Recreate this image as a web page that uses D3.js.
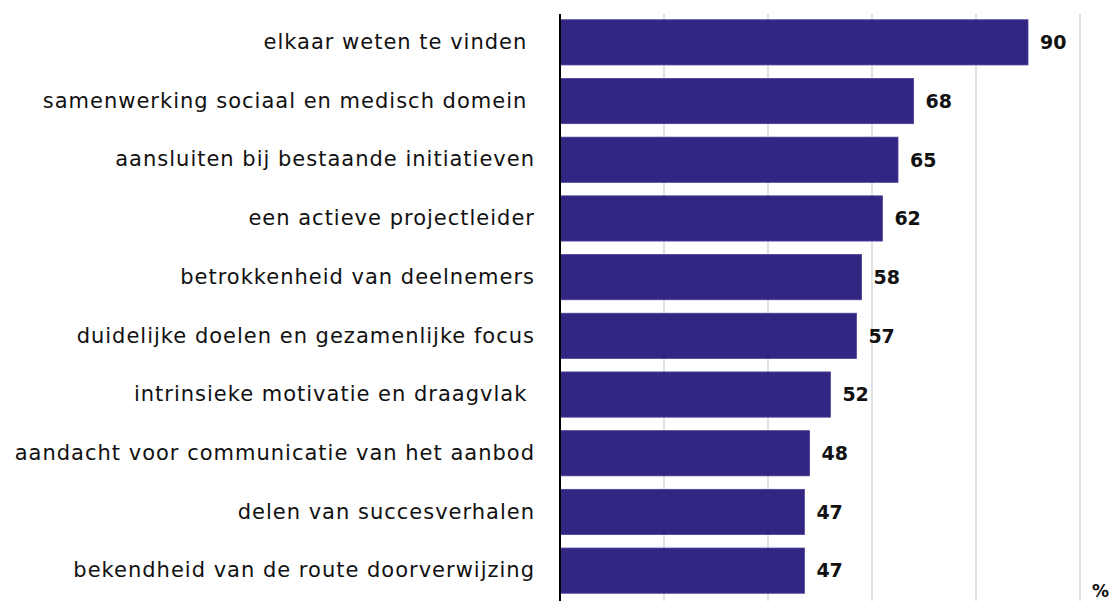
<!DOCTYPE html>
<html>
<head>
<meta charset="utf-8">
<script src="https://cdn.jsdelivr.net/npm/d3@7"></script>
<style>
  body { margin: 0; background: #fff; }
  svg { display: block; }
</style>
</head>
<body>
<svg id="chart" width="1115" height="601"></svg>
<script>
// data
const categories = [
  "elkaar weten te vinden ",
  "samenwerking sociaal en medisch domein ",
  "aansluiten bij bestaande initiatieven",
  "een actieve projectleider",
  "betrokkenheid van deelnemers",
  "duidelijke doelen en gezamenlijke focus",
  "intrinsieke motivatie en draagvlak ",
  "aandacht voor communicatie van het aanbod",
  "delen van succesverhalen",
  "bekendheid van de route doorverwijzing"
];
const values = [90, 68, 65, 62, 58, 57, 52, 48, 47, 47];
const gridTicks = [20, 40, 60, 80, 100];
const unitLabel = "%";

const svg = d3.select("#chart");
const width = 1115, height = 601;

const x = d3.scaleLinear().domain([0, 100]).range([560, 1080]);
const y = d3.scaleBand()
  .domain(categories)
  .range([13, 600])
  .paddingInner(0.23)
  .paddingOuter(0.115);

const font = "'DejaVu Sans', 'Open Sans', sans-serif";

// gridlines
svg.append("g")
  .selectAll("line")
  .data(gridTicks)
  .enter().append("line")
  .attr("x1", d => x(d)).attr("x2", d => x(d))
  .attr("y1", 14).attr("y2", height)
  .attr("stroke", "#d9d9d9")
  .attr("stroke-width", 1.5);

// bars
svg.append("g")
  .selectAll("rect")
  .data(values)
  .enter().append("rect")
  .attr("x", x(0))
  .attr("y", (d, i) => y(categories[i]))
  .attr("width", d => x(d) - x(0))
  .attr("height", y.bandwidth())
  .attr("fill", "#312783")
  .attr("stroke", "#4a3f98")
  .attr("stroke-width", 0.8);

// value labels
svg.append("g")
  .selectAll("text")
  .data(values)
  .enter().append("text")
  .attr("x", d => x(d) + 12)
  .attr("y", (d, i) => y(categories[i]) + y.bandwidth() / 2)
  .attr("dy", "0.36em")
  .style("font-family", font)
  .style("font-size", "19px")
  .style("font-weight", 700)
  .attr("fill", "#111")
  .text(d => d);

// category axis
const yAxis = svg.append("g")
  .attr("transform", `translate(${x(0)},0)`)
  .call(d3.axisLeft(y).tickSize(0).tickPadding(25));
yAxis.select(".domain").remove();
yAxis.selectAll("text")
  .attr("xml:space", "preserve")
  .style("font-family", font)
  .style("font-size", "21px")
  .style("letter-spacing", "1px")
  .attr("fill", "#111");

// axis line
svg.append("line")
  .attr("x1", x(0)).attr("x2", x(0))
  .attr("y1", 14).attr("y2", height)
  .attr("stroke", "#000")
  .attr("stroke-width", 2);

svg.append("text")
  .attr("x", 1092).attr("y", 597)
  .style("font-family", font)
  .style("font-size", "17px")
  .style("font-weight", 700)
  .attr("fill", "#111")
  .text(unitLabel);
</script>
</body>
</html>
